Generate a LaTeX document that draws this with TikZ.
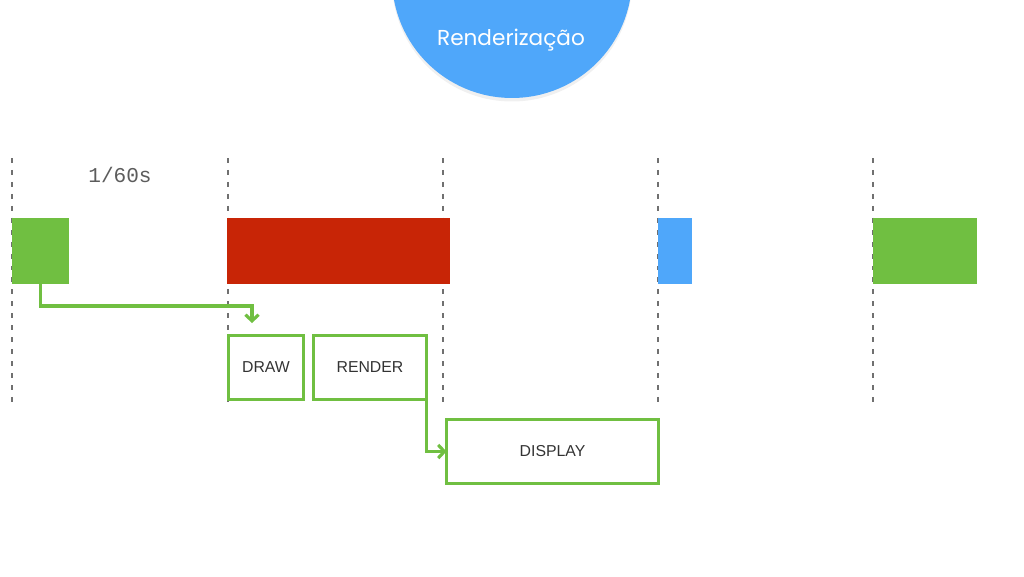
\documentclass[tikz,border=0pt]{standalone}
\usepackage{fontspec}
\setmainfont{Liberation Sans}
\newfontfamily\titlefont{Poppins}
\newfontfamily\clockfont{Liberation Mono}
\usetikzlibrary{arrows.meta,shadows}

\definecolor{frameGreen}{HTML}{70BF41}
\definecolor{stallRed}{HTML}{C82506}
\definecolor{vsyncBlue}{HTML}{4FA7FA}
\definecolor{tickGray}{HTML}{707070}
\definecolor{labelGray}{HTML}{333333}

\newcommand{\vsync}[1]{
	\draw[tickline] (#1, 158) -- (#1, 408);
}

\tikzset{
	tickline/.style={draw=tickGray, line width=0.85pt, dash pattern=on 2.8pt off 4pt},
	bar/.style={inner sep=0pt, outer sep=0pt, minimum height=1.32cm},
	stage/.style={draw=frameGreen, line width=1.7pt, inner sep=0pt, outer sep=0pt, minimum height=1.28cm, text=labelGray, font=\fontsize{9}{11}\selectfont},
	flow/.style={draw=frameGreen, line width=1.8pt, -{Straight Barb[length=3.5pt,width=7.5pt]}}
}

\begin{document}
\begin{tikzpicture}[x=0.02cm, y=-0.02cm]
\useasboundingbox (0,0) rectangle (1024,576);

\node[circle, fill=vsyncBlue, minimum size=4.8cm, drop shadow={shadow xshift=0pt, shadow yshift=-2pt, opacity=0.12}] (badge) at (512,-22) {};
\node[text=white, font=\titlefont\fontsize{12.3}{15}\selectfont] (title) at (511,40) {Renderização};

\foreach \t in {12,228,443,658,873}{
	\vsync{\t}
}

\node[font=\clockfont\fontsize{12}{14}\selectfont, text=labelGray!80] (period) at (120,175) {1/60s};

\node[bar, fill=frameGreen, minimum width=1.14cm] (early) at (40.5,251) {};
\node[bar, fill=stallRed, minimum width=4.46cm] (stall) at (338.5,251) {};
\node[bar, fill=vsyncBlue, minimum width=0.68cm] (swap) at (675,251) {};
\node[bar, fill=frameGreen, minimum width=2.08cm] (late) at (925,251) {};

\node[stage, minimum width=1.5cm] (draw) at (266,367.5) {DRAW};
\node[stage, minimum width=2.26cm] (render) at (370,367.5) {RENDER};
\node[stage, minimum width=4.24cm] (display) at (552.5,451.5) {DISPLAY};

\coordinate (drawin) at (252,323);
\draw[flow] (early.south) -- ++(0,22) -| (drawin);
\draw[flow] (render.south east) |- (display.west);
\end{tikzpicture}
\end{document}
